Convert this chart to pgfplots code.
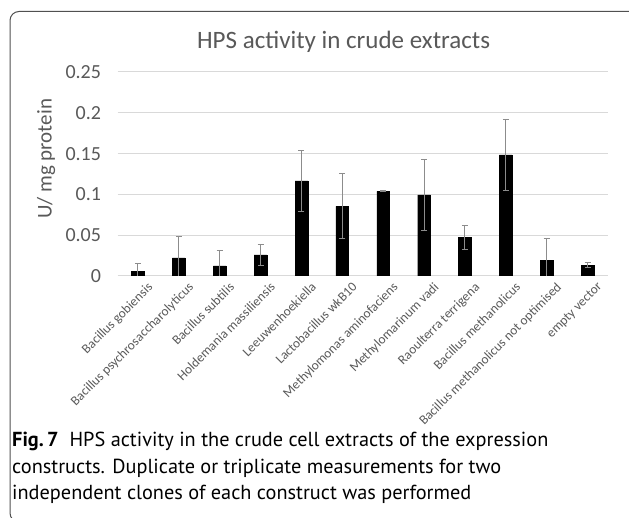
\documentclass[border=0pt]{standalone}
\usepackage{pgfplots}
\pgfplotsset{compat=1.18}
\usepackage{pgfplotstable}
\usepackage{fontspec}
\setmainfont{Carlito}
\newfontfamily\capfont{PT Sans}
\definecolor{txtgray}{HTML}{595959}
\definecolor{gridgray}{HTML}{D9D9D9}
\definecolor{errgray}{HTML}{8C8C8C}
\definecolor{framegray}{HTML}{505050}

\pgfplotstableread{
x y e
0 0.0053 0.0098
1 0.0221 0.0261
2 0.0123 0.0192
3 0.0258 0.0133
4 0.1165 0.0372
5 0.0854 0.0400
6 0.1038 0.0006
7 0.0993 0.0437
8 0.0474 0.0145
9 0.1484 0.0439
10 0.0188 0.0274
11 0.0131 0.0033
}\hps

\begin{document}
\begin{tikzpicture}[x=1bp,y=1bp]
\draw[framegray, line width=1bp, rounded corners=9bp] (10,-4) rectangle (645,506.5);
\node[anchor=base, text=txtgray, font=\fontsize{25bp}{29bp}\selectfont, inner sep=0] at (343.6,469.7) {HPS activity in crude extracts};
\begin{axis}[
  at={(117.5bp,242bp)}, anchor=south west,
  scale only axis, width=490.5bp, height=204bp,
  xmin=-0.5, xmax=11.5, ymin=0, ymax=0.25,
  ytick={0,0.05,0.1,0.15,0.2,0.25},
  yticklabels={0,0.05,0.1,0.15,0.2,0.25},
  xtick=data,
  xticklabels={Bacillus gobiensis, Bacillus psychrosaccharolyticus, Bacillus subtilis, Holdemania massiliensis, Leeuwenhoekiella, Lactobacillus wkB10, Methylomonas aminofaciens, Methylomarinum vadi, Raoulterra terrigena, Bacillus methanolicus, Bacillus methanolicus not optimised, empty vector},
  xticklabel style={rotate=45, anchor=north east, text=txtgray, font=\fontsize{13.3bp}{15bp}\selectfont, inner sep=0bp, xshift=2.5bp, yshift=-10bp},
  yticklabel style={text=txtgray, font=\fontsize{20bp}{24bp}\selectfont, xshift=-13bp},
  major tick length=0pt,
  axis line style={draw=none},
  ymajorgrids, grid style={gridgray, line width=1bp},
  ylabel={U/ mg protein},
  ylabel style={at={(axis description cs:-0.1457,0.574)}, anchor=center, text=txtgray, font=\fontsize{21bp}{25bp}\selectfont},
  clip=true,
]
\addplot[ybar, bar width=0.31, fill=black, draw=black, mark=none,
  error bars/.cd, y dir=both, y explicit,
  error bar style={errgray, line width=1bp},
  error mark options={rotate=90, mark size=3bp, errgray, line width=1bp}]
  table[x=x, y=y, y error=e] {\hps};
\end{axis}
\node[anchor=base west, inner sep=0, font=\capfont\fontsize{20.3bp}{26bp}\selectfont] at (12,71.3) {\textbf{Fig.\,7}\ \ HPS activity in the crude cell extracts of the expression};
\node[anchor=base west, inner sep=0, font=\capfont\fontsize{20.3bp}{26bp}\selectfont] at (12,44.7) {constructs. Duplicate or triplicate measurements for two};
\node[anchor=base west, inner sep=0, font=\capfont\fontsize{20.3bp}{26bp}\selectfont] at (12,18) {independent clones of each construct was performed};
\pgfresetboundingbox
\path[use as bounding box] (0,0) rectangle (629,518);
\end{tikzpicture}
\end{document}
